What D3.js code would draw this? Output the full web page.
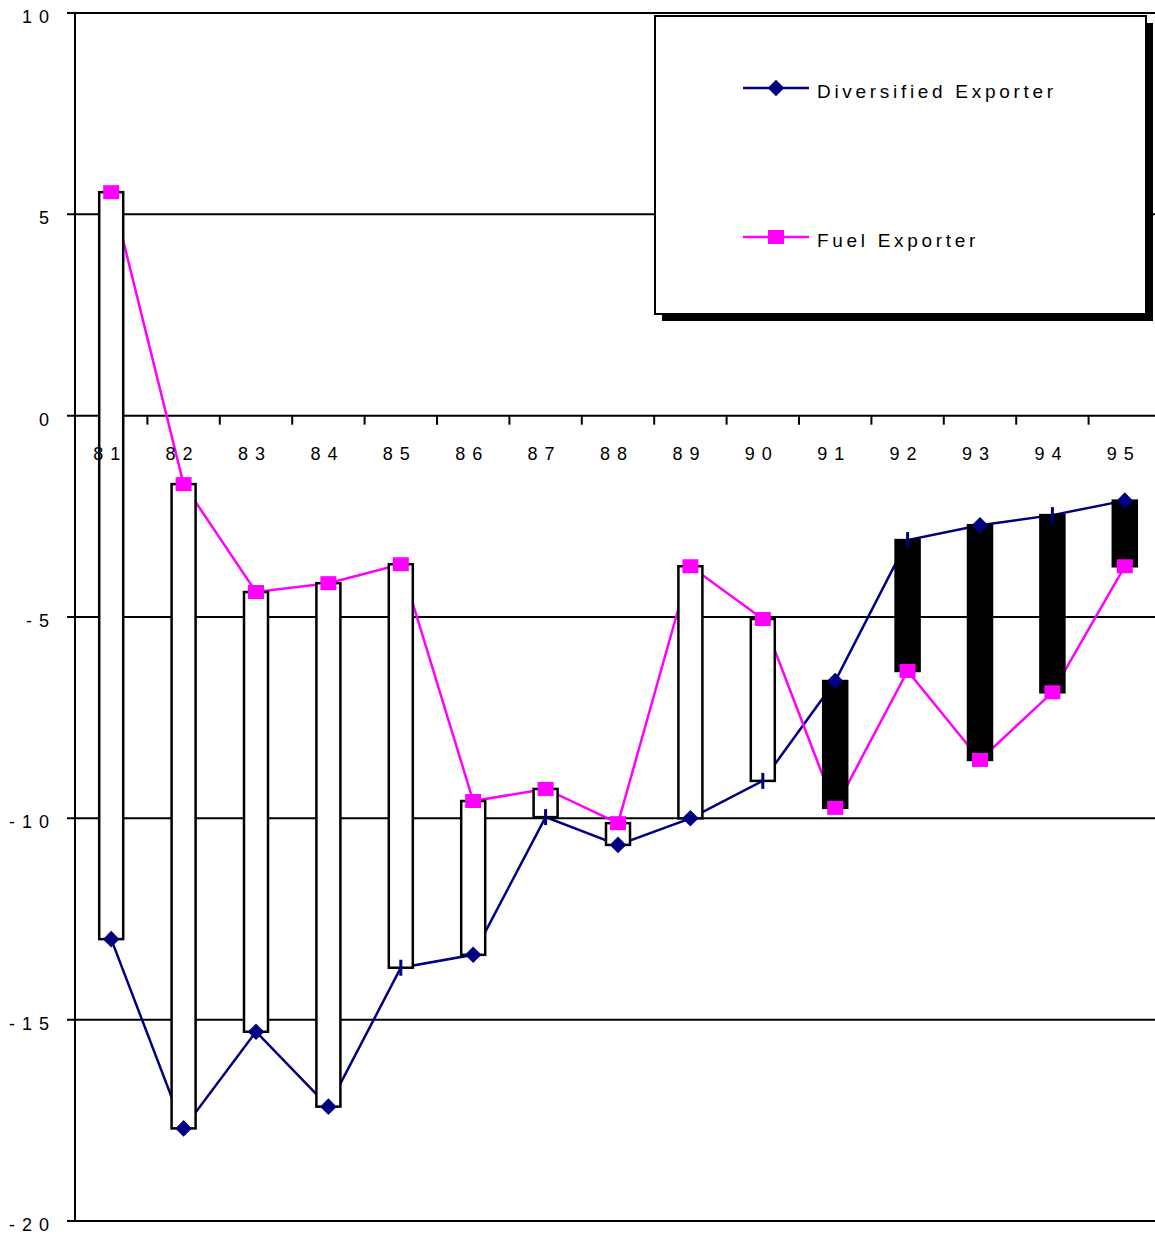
<!DOCTYPE html>
<html>
<head>
<meta charset="utf-8">
<script src="https://cdn.jsdelivr.net/npm/d3@7"></script>
<style>
  body { margin: 0; background: #fff; }
  svg { display: block; font-family: "Liberation Sans", Arial, sans-serif; }
</style>
</head>
<body>
<svg width="1155" height="1234"></svg>
<script>
// data
var years = ["81","82","83","84","85","86","87","88","89","90","91","92","93","94","95"];
var diversified = [-13.0, -17.7, -15.3, -17.16, -13.71, -13.39, -9.97, -10.66, -10.0, -9.07, -6.59, -3.09, -2.72, -2.47, -2.11];
var fuel = [5.55, -1.7, -4.38, -4.16, -3.69, -9.57, -9.27, -10.12, -3.74, -5.05, -9.74, -6.34, -8.55, -6.87, -3.74];
var yTicks = [10, 5, 0, -5, -10, -15, -20];
// points where the diamond is hidden and only a small tick shows
var hiddenDiv = ["85", "87", "90", "92", "94"];

var svg = d3.select("svg");
var navy = "#000080", pink = "#ff00ff";

// last band runs a bit past the right edge of the window
var x = d3.scaleBand().domain(years).range([75, 1161]).padding(0);
var y = d3.scaleLinear().domain([-20, 10]).range([1221, 13]);

function fmt(v) {
  return v < 0 ? "-" + Math.abs(v) : String(v);
}

// gridlines + left ticks
svg.append("g").selectAll("line")
  .data(yTicks)
  .enter().append("line")
    .attr("x1", 67).attr("x2", 1155)
    .attr("y1", function(d) { return y(d); })
    .attr("y2", function(d) { return y(d); })
    .attr("stroke", "#000").attr("stroke-width", 2);

// y axis
svg.append("line")
  .attr("x1", 75).attr("x2", 75)
  .attr("y1", y(10)).attr("y2", y(-20))
  .attr("stroke", "#000").attr("stroke-width", 2);

// y labels
var lsY = 7;
svg.append("g").selectAll("text")
  .data(yTicks)
  .enter().append("text")
    .attr("x", 49 + lsY)
    .attr("y", function(d) { return y(d) + 10; })
    .attr("text-anchor", "end")
    .attr("font-size", 18)
    .attr("letter-spacing", lsY)
    .text(fmt);

// x ticks at band edges
svg.append("g").selectAll("line")
  .data(years.slice(1))
  .enter().append("line")
    .attr("x1", function(d) { return x(d); })
    .attr("x2", function(d) { return x(d); })
    .attr("y1", y(0)).attr("y2", y(0) + 9)
    .attr("stroke", "#000").attr("stroke-width", 2);

// series lines (under the bars)
var line = d3.line()
  .x(function(d, i) { return x(years[i]) + x.bandwidth() / 2; })
  .y(function(d) { return y(d); });

svg.append("path").datum(diversified)
  .attr("d", line).attr("fill", "none")
  .attr("stroke", navy).attr("stroke-width", 2.5);
svg.append("path").datum(fuel)
  .attr("d", line).attr("fill", "none")
  .attr("stroke", pink).attr("stroke-width", 2.5);

// up/down bars
var bw = 24;
svg.append("g").selectAll("rect")
  .data(years)
  .enter().append("rect")
    .attr("x", function(d) { return x(d) + x.bandwidth() / 2 - bw / 2; })
    .attr("width", bw)
    .attr("y", function(d, i) { return y(Math.max(diversified[i], fuel[i])); })
    .attr("height", function(d, i) { return Math.abs(y(diversified[i]) - y(fuel[i])); })
    .attr("fill", function(d, i) { return fuel[i] > diversified[i] ? "#fff" : "#000"; })
    .attr("stroke", "#000").attr("stroke-width", 2.5);

// x labels
var lsX = 7;
svg.append("g").selectAll("text")
  .data(years)
  .enter().append("text")
    .attr("x", function(d) { return x(d) + x.bandwidth() / 2 + lsX / 2 - 4.5; })
    .attr("y", 460)
    .attr("text-anchor", "middle")
    .attr("font-size", 18)
    .attr("letter-spacing", lsX)
    .text(function(d) { return d; });

// markers
var diamond = d3.symbol().type(d3.symbolDiamond2).size(175);
svg.append("g").selectAll("path")
  .data(years)
  .enter().append("path")
    .attr("transform", function(d, i) {
      return "translate(" + (x(d) + x.bandwidth() / 2) + "," + y(diversified[i]) + ")";
    })
    .attr("d", function(d) { return hiddenDiv.indexOf(d) >= 0 ? "M0,-8V8" : diamond(); })
    .attr("fill", navy)
    .attr("stroke", navy)
    .attr("stroke-width", function(d) { return hiddenDiv.indexOf(d) >= 0 ? 3 : 0; });

var mw = 16, mh = 14;
svg.append("g").selectAll("rect")
  .data(years)
  .enter().append("rect")
    .attr("x", function(d) { return x(d) + x.bandwidth() / 2 - mw / 2; })
    .attr("y", function(d, i) { return y(fuel[i]) - mh / 2; })
    .attr("width", mw).attr("height", mh)
    .attr("fill", pink);

// legend
var lg = svg.append("g");
lg.append("rect").attr("x", 662).attr("y", 23).attr("width", 491).attr("height", 298).attr("fill", "#000");
lg.append("rect").attr("x", 655).attr("y", 16).attr("width", 491).attr("height", 298)
  .attr("fill", "#fff").attr("stroke", "#000").attr("stroke-width", 2);

var entries = [
  { name: "Diversified Exporter", color: navy, shape: "diamond", y: 88 },
  { name: "Fuel Exporter", color: pink, shape: "square", y: 237 }
];
entries.forEach(function(e) {
  lg.append("line").attr("x1", 743).attr("x2", 809).attr("y1", e.y).attr("y2", e.y)
    .attr("stroke", e.color).attr("stroke-width", 2.5);
  if (e.shape === "diamond") {
    lg.append("path").attr("d", diamond()).attr("transform", "translate(776," + e.y + ")").attr("fill", e.color);
  } else {
    lg.append("rect").attr("x", 776 - mw / 2).attr("y", e.y - mh / 2).attr("width", mw).attr("height", mh).attr("fill", e.color);
  }
  lg.append("text").attr("x", 817).attr("y", e.y + 10)
    .attr("font-size", 19).attr("letter-spacing", 3.7)
    .text(e.name);
});
</script>
</body>
</html>
